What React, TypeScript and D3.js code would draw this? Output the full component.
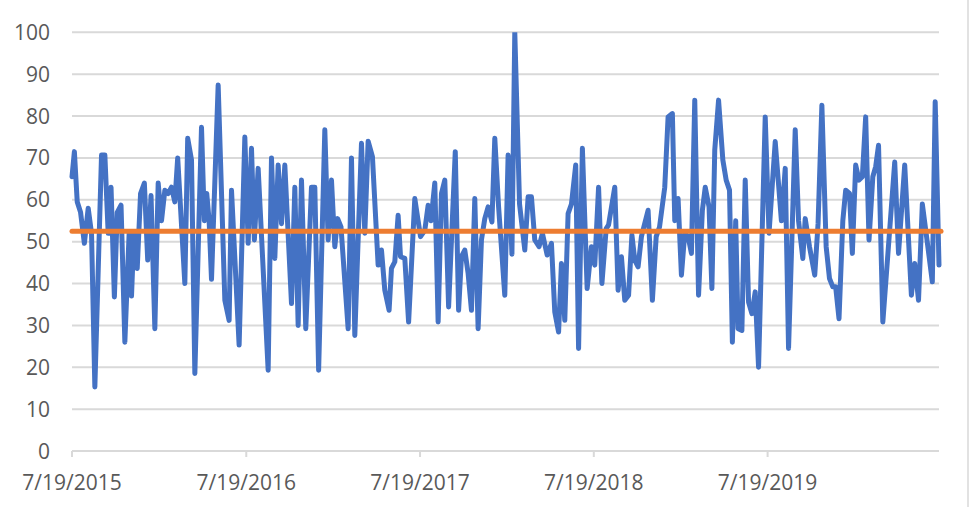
import * as d3 from "d3";
import React from "react";

// days after 7/19/2015 for each visible vertex, and the value there
const dayOffsets = [
  0, 5, 11, 18, 26, 34, 41, 48, 62, 69, 76, 82, 89, 95, 103, 111, 120, 125, 130, 137,
  144, 152, 159, 166, 174, 181, 188, 195, 202, 209, 216, 222, 237, 243, 251, 258, 272, 278, 283, 288,
  293, 307, 321, 330, 335, 351, 363, 370, 377, 383, 391, 412, 419, 426, 433, 440, 447, 461, 468, 475,
  482, 491, 503, 510, 518, 531, 538, 545, 552, 558, 565, 580, 587, 594, 608, 615, 622, 631, 643, 650,
  657, 666, 671, 678, 685, 690, 699, 707, 720, 732, 741, 748, 754, 762, 769, 776, 783, 791, 805, 812,
  818, 825, 832, 839, 846, 853, 860, 867, 874, 882, 888, 896, 909, 916, 924, 930, 940, 951, 958, 965,
  972, 981, 988, 998, 1007, 1014, 1022, 1028, 1035, 1042, 1049, 1058, 1064, 1072, 1082, 1091, 1098, 1106, 1113, 1122,
  1127, 1140, 1147, 1154, 1161, 1169, 1176, 1182, 1189, 1196, 1201, 1210, 1219, 1227, 1234, 1245, 1252, 1261, 1266, 1273,
  1280, 1287, 1294, 1301, 1308, 1316, 1324, 1330, 1338, 1344, 1350, 1358, 1367, 1374, 1381, 1387, 1394, 1399, 1407, 1414,
  1421, 1428, 1435, 1442, 1456, 1464, 1477, 1490, 1498, 1505, 1519, 1526, 1535, 1540, 1549, 1560, 1567, 1575, 1584, 1591,
  1598, 1604, 1611, 1619, 1625, 1633, 1639, 1646, 1653, 1660, 1667, 1674, 1682, 1688, 1694, 1703, 1728, 1736, 1749, 1763,
  1770, 1778, 1786, 1794, 1807, 1813, 1821,
];

const values = [
  65.5, 71.5, 59.5, 57, 49.6, 58, 52, 15.3, 70.7, 70.7, 52, 63, 36.8, 57, 58.7, 26, 52, 37, 52, 43.6,
  61.5, 64, 45.6, 61, 29.2, 64, 55, 62.3, 61.5, 63, 59.5, 70, 40, 74.7, 69.5, 18.5, 77.3, 55, 61.5, 55,
  41, 87.4, 36, 31.2, 62.3, 25.3, 75, 49.6, 72.3, 50.4, 67.5, 19.3, 70, 46, 68.3, 54.3, 68.3, 35.2, 63, 30,
  64.7, 29.2, 63, 63, 19.3, 76.7, 50.4, 64.7, 48.8, 55.5, 53.5, 29.2, 70, 27.6, 73.5, 52, 74, 70.3, 44.4, 48,
  38.4, 33.6, 43.6, 45.2, 56.3, 46.4, 46, 30.8, 60.3, 51.2, 52.7, 58.7, 55, 64, 30.8, 61.5, 64.7, 34.4, 71.5, 33.6,
  46.4, 48, 42.4, 33.6, 60.3, 29.2, 50.4, 55.5, 58.3, 54.7, 74.7, 58.3, 37.2, 70.7, 47, 100, 59, 48, 60.7, 60.7,
  50.4, 48.8, 52, 46.8, 49.6, 33.2, 28.4, 44.8, 31.2, 56.7, 59, 68.3, 24.5, 72.3, 38.8, 48.8, 44.4, 63, 40, 53.1,
  54, 63, 38.4, 46.4, 36, 37.2, 51.6, 45.6, 44, 51.2, 53.5, 57.5, 36, 51.2, 53.5, 63, 79.8, 80.6, 55, 60.3,
  42, 52, 51.2, 47.2, 83.8, 37.2, 57.5, 63, 58.3, 38.8, 71.9, 83.8, 69.5, 64.7, 62.3, 26, 55, 29.2, 28.8, 64.7,
  35.6, 32.8, 38, 20, 79.8, 52, 73.9, 55, 67.5, 24.5, 76.7, 55, 46, 55.5, 48.8, 42, 54.3, 82.6, 48.8, 41.2,
  39.2, 39.2, 31.6, 55, 62.3, 61.5, 47.2, 68.3, 64.7, 65.5, 79.8, 50.4, 65.5, 67.9, 73, 30.8, 69, 47.2, 68.3, 37.2,
  44.8, 36, 59, 52, 40.4, 83.4, 44.4,
];

const meanValue = 52.5;
const yTicks = [0, 10, 20, 30, 40, 50, 60, 70, 80, 90, 100];
const xTickLabels = ["7/19/2015", "7/19/2016", "7/19/2017", "7/19/2018", "7/19/2019"];

const W = 972;
const H = 507;
const left = 72;
const right = 939;
const top = 32.3;
const bottom = 451;

const startDate = new Date(2015, 6, 19);
const parse = d3.timeParse("%m/%d/%Y");
const fmt = (d: Date) => `${d.getMonth() + 1}/${d.getDate()}/${d.getFullYear()}`;

export default function App() {
  const points = dayOffsets.map((d, i) => ({
    date: d3.timeDay.offset(startDate, d),
    value: values[i],
  }));

  const x = d3
    .scaleTime()
    .domain([startDate, points[points.length - 1].date])
    .range([left, right]);
  const y = d3.scaleLinear().domain([0, 100]).range([bottom, top]);

  const line = d3
    .line<{ date: Date; value: number }>()
    .x((d) => x(d.date))
    .y((d) => y(d.value));

  const xTicks = xTickLabels.map((s) => parse(s) as Date);
  const font = "'Open Sans', 'Segoe UI', sans-serif";

  return (
    <div style={{ position: "absolute", left: 0, top: 0 }}>
      <svg width={W} height={H} style={{ display: "block", background: "#fff" }}>
        <defs>
          <clipPath id="plot">
            <rect x={left - 5} y={top} width={right - left + 12} height={bottom - top + 5} />
          </clipPath>
        </defs>
        {yTicks.map((t) => (
          <line
            key={t}
            x1={left}
            x2={right}
            y1={y(t)}
            y2={y(t)}
            stroke="#d9d9d9"
            strokeWidth={2}
          />
        ))}
        {xTicks.map((d, i) => (
          <line
            key={i}
            x1={x(d)}
            x2={x(d)}
            y1={bottom}
            y2={bottom + 6}
            stroke="#d9d9d9"
            strokeWidth={2}
          />
        ))}
        <line x1={968} x2={968} y1={0} y2={H} stroke="#d9d9d9" strokeWidth={1.5} />
        <g clipPath="url(#plot)">
          <path
            d={line(points) || ""}
            fill="none"
            stroke="#4472C4"
            strokeWidth={5}
            strokeLinejoin="round"
            strokeLinecap="round"
          />
        </g>
        <line
          x1={left}
          x2={right + 2}
          y1={y(meanValue)}
          y2={y(meanValue)}
          stroke="#ED7D31"
          strokeWidth={5}
          strokeLinecap="round"
        />
        {yTicks.map((t) => (
          <text
            key={t}
            x={50}
            y={y(t)}
            dy="0.36em"
            textAnchor="end"
            fontFamily={font}
            fontSize={21}
            fill="#595959"
          >
            {t}
          </text>
        ))}
        {xTicks.map((d, i) => (
          <text
            key={i}
            x={x(d)}
            y={490}
            textAnchor="middle"
            fontFamily={font}
            fontSize={21}
            fill="#595959"
          >
            {fmt(d)}
          </text>
        ))}
      </svg>
    </div>
  );
}
